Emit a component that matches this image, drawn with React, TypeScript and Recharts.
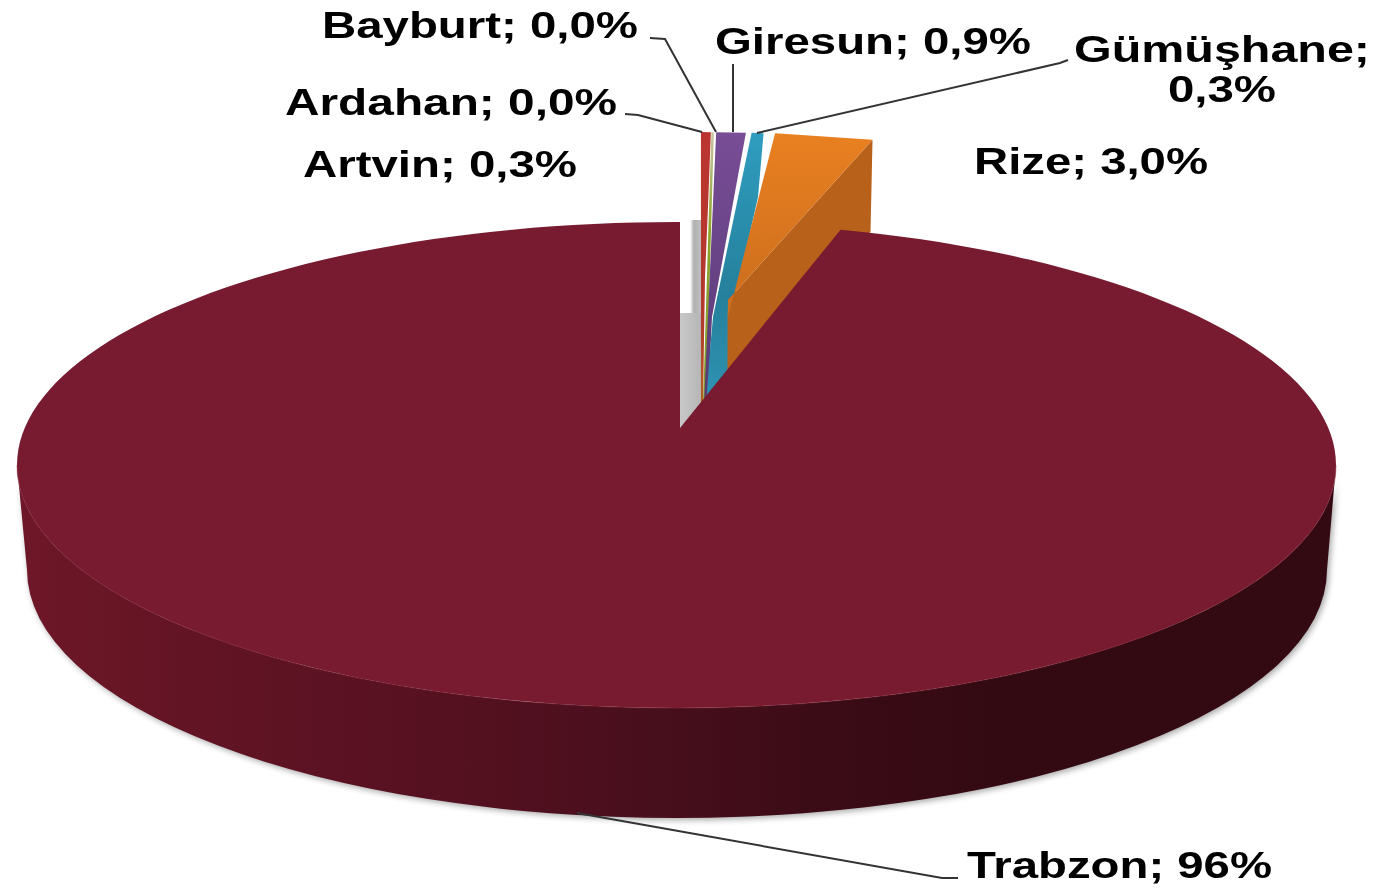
import React from 'react';
import { PieChart, Pie } from 'recharts';

// the share of each slice (labels round them)
const provinces = ['Artvin', 'Ardahan', 'Bayburt', 'Giresun', 'Gümüşhane', 'Rize', 'Trabzon'];
const shares = [0.3, 0.24, 0.06, 0.72, 0.29, 2.39, 96];
const labelLines = [
  ['Artvin; 0,3%'],
  ['Ardahan; 0,0%'],
  ['Bayburt; 0,0%'],
  ['Giresun; 0,9%'],
  ['Gümüşhane;', '0,3%'],
  ['Rize; 3,0%'],
  ['Trabzon; 96%'],
];

const chartData = provinces.map((name, i) => ({ name, value: shares[i] }));

const CX = 676.5;
const CY = 465;
const RX = 659.5;
const RY = 243;
const APEX = { x: 680, y: 428 };
const FONT = '"Liberation Sans", Arial, sans-serif';

// explode offset of the outer arc, then the outline from the arc back to the tip
const sliceLook: Record<string, any> = {
  Ardahan: { dx: 12, dy: -90, edge: [[708, 207], [705, 277], [703, 405], [701, 405]], fill: 'url(#redFill)' },
  Bayburt: { dx: 12.5, dy: -90, edge: [[706, 405], [703, 405]], fill: 'url(#greenFill)' },
  Giresun: { dx: 14.8, dy: -90, edge: [[712, 317], [708, 400], [704, 405]], fill: 'url(#purpleFill)' },
  'Gümüşhane': { dx: 20.5, dy: -90, edge: [[758, 197], [740, 277], [728, 317], [728, 385], [706, 405], [710, 350], [713, 317]], fill: 'url(#tealFill)' },
  Rize: { dx: 32, dy: -90, edge: [[728, 300], [727, 357], [728, 317]], fill: 'url(#orangeFill)' },
};

const labelLook = [
  { x: [303], w: [274], y: [177] },
  { x: [285], w: [332], y: [115], leader: '625,114 638,115 702,132' },
  { x: [322], w: [316], y: [38], leader: '650,38 665,39 716,132' },
  { x: [715], w: [316], y: [54], leader: '733,64 733,132' },
  { x: [1074, 1168], w: [296, 108], y: [62, 102], leader: '1068,60 1060,63 757,133' },
  { x: [974], w: [234], y: [174] },
  { x: [967], w: [305], y: [878], leader: '577,813 942,878 958,878' },
];

const rad = Math.PI / 180;
const onRim = (t: number, dx = 0, dy = 0) => [
  CX + RX * Math.cos(t * rad) + dx,
  CY - RY * Math.sin(t * rad) + dy,
];

function TrabzonShape({ startAngle, endAngle, fill }: any) {
  const [sx, sy] = onRim(startAngle);
  const [ex, ey] = onRim(endAngle);
  const top = `M${APEX.x},${APEX.y} L${sx},${sy} A${RX},${RY} 0 1 1 ${ex},${ey} L${APEX.x},${ey} Z`;
  const wall = `M${CX - RX},${CY} L27,570 A650,248 0 0 0 1327,570 L${CX + RX},${CY} A${RX},${RY} 0 0 1 ${CX - RX},${CY} Z`;
  const rim = `M${CX - RX},${CY} A${RX},${RY} 0 0 0 ${CX + RX},${CY}`;
  return (
    <g>
      <path d={wall} fill="#000000" opacity={0.35} filter="url(#softShadow)" transform="translate(2,2)" />
      <path d={wall} fill="url(#wallFill)" />
      <path d={top} fill={fill} />
      <path d={rim} fill="none" stroke="#8a2a3e" strokeWidth={1.5} opacity={0.35} />
    </g>
  );
}

function SliceShape(props: any) {
  const { startAngle, endAngle, name } = props;
  if (name === 'Trabzon') return <TrabzonShape {...props} fill="#781b30" />;
  if (name === 'Artvin') {
    // its top face is white, only the grey side shows
    return (
      <g>
        <path d={`M${APEX.x},${APEX.y} V313 H703 V410 Z`} fill="url(#greyLow)" />
        <path d="M690,313 V220 H703 V313 Z" fill="url(#greyHigh)" />
      </g>
    );
  }
  const look = sliceLook[name];
  const [sx, sy] = onRim(startAngle, look.dx, look.dy);
  const [ex, ey] = onRim(endAngle, look.dx, look.dy);
  const edge = look.edge.map((p: number[]) => `L${p[0]},${p[1]}`).join(' ');
  const face = `M${sx},${sy} L${ex},${ey} ${edge} Z`;
  return (
    <g>
      {name === 'Rize' && (
        <path d={`M${ex},${ey} L728,300 L727,412 L${ex - 2},${ey + 92} Z`} fill="#b8611a" />
      )}
      <path d={face} fill={look.fill} />
    </g>
  );
}

function renderLabel({ index }: any) {
  const look = labelLook[index];
  return (
    <g key={provinces[index]}>
      {look.leader && <polyline points={look.leader} fill="none" stroke="#333333" strokeWidth={2} />}
      {labelLines[index].map((line, i) => (
        <text
          key={line}
          x={look.x[i]}
          y={look.y[i]}
          textLength={look.w[i]}
          lengthAdjust="spacingAndGlyphs"
          fontFamily={FONT}
          fontWeight="bold"
          fontSize={36}
          fill="#000000"
        >
          {line}
        </text>
      ))}
    </g>
  );
}

export default function App() {
  return (
    <div style={{ position: 'absolute', left: 0, top: 0, width: 1381, height: 888, background: '#ffffff', filter: 'blur(0.7px)' }}>
      <PieChart width={1381} height={888} margin={{ top: 0, right: 0, bottom: 0, left: 0 }}>
        <defs>
          <filter id="softShadow" x="-5%" y="-5%" width="110%" height="110%">
            <feGaussianBlur stdDeviation="3" />
          </filter>
          <linearGradient id="wallFill" x1="0" y1="0" x2="1" y2="0">
            <stop offset="0%" stopColor="#6e1728" />
            <stop offset="14%" stopColor="#621424" />
            <stop offset="37%" stopColor="#52101f" />
            <stop offset="50%" stopColor="#460e1b" />
            <stop offset="60%" stopColor="#3c0c16" />
            <stop offset="75%" stopColor="#330a12" />
            <stop offset="100%" stopColor="#330a12" />
          </linearGradient>
          <linearGradient id="redFill" x1="0" y1="0" x2="0" y2="1">
            <stop offset="0%" stopColor="#bb3530" />
            <stop offset="70%" stopColor="#b23a2c" />
            <stop offset="100%" stopColor="#b5611e" />
          </linearGradient>
          <linearGradient id="greenFill" x1="0" y1="0" x2="0" y2="1">
            <stop offset="0%" stopColor="#c9c4a8" />
            <stop offset="35%" stopColor="#8fa52a" />
            <stop offset="100%" stopColor="#7f9a2c" />
          </linearGradient>
          <linearGradient id="purpleFill" x1="0" y1="0" x2="0" y2="1">
            <stop offset="0%" stopColor="#784d96" />
            <stop offset="100%" stopColor="#573a75" />
          </linearGradient>
          <linearGradient id="tealFill" x1="0" y1="0" x2="0" y2="1">
            <stop offset="0%" stopColor="#2f9dbf" />
            <stop offset="60%" stopColor="#25809c" />
            <stop offset="100%" stopColor="#2f94b3" />
          </linearGradient>
          <linearGradient id="orangeFill" x1="0" y1="0" x2="0" y2="1">
            <stop offset="0%" stopColor="#e98021" />
            <stop offset="100%" stopColor="#c4691c" />
          </linearGradient>
          <linearGradient id="greyLow" x1="0" y1="0" x2="1" y2="0">
            <stop offset="0%" stopColor="#c8c8c8" />
            <stop offset="100%" stopColor="#b4b4b4" />
          </linearGradient>
          <linearGradient id="greyHigh" x1="0" y1="0" x2="1" y2="0">
            <stop offset="0%" stopColor="#ffffff" />
            <stop offset="30%" stopColor="#b0b0b0" />
            <stop offset="100%" stopColor="#c4c4c4" />
          </linearGradient>
        </defs>
        <Pie
          data={chartData}
          dataKey="value"
          nameKey="name"
          cx={CX}
          cy={CY}
          innerRadius={0}
          outerRadius={RX}
          startAngle={90}
          endAngle={-270}
          stroke="none"
          isAnimationActive={false}
          shape={SliceShape}
          label={renderLabel}
          labelLine={false}
        />
      </PieChart>
    </div>
  );
}
